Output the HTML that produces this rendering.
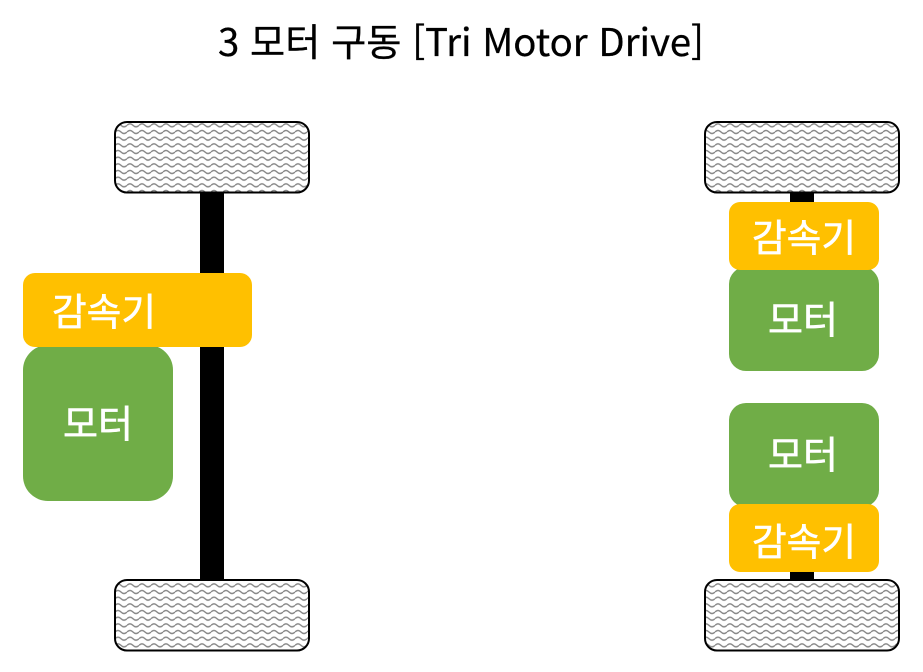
<!DOCTYPE html>
<html lang="ko">
<head>
<meta charset="utf-8">
<style>
html,body{margin:0;padding:0;background:#fff;width:923px;height:672px;overflow:hidden}
svg{display:block}
text{font-family:"Noto Sans CJK KR","Liberation Sans",sans-serif}
.w{fill:#fff;font-size:38px;text-anchor:middle;stroke:#fff;stroke-width:.6}
</style>
</head>
<body>
<svg width="923" height="672" viewBox="0 0 923 672" xmlns="http://www.w3.org/2000/svg">
<defs>
<pattern id="wave" width="12" height="6.667" patternUnits="userSpaceOnUse" x="115" y="122">
<path d="M0 3.3 Q3 0.3 6 3.3 T12 3.3" fill="none" stroke="#858585" stroke-width="1.4"/>
</pattern>
</defs>
<rect width="923" height="672" fill="#fff"/>
<text x="461" y="56" font-size="38" text-anchor="middle" textLength="486" lengthAdjust="spacingAndGlyphs" fill="#000" stroke="#000" stroke-width=".3">3 모터 구동 [Tri Motor Drive]</text>

<rect x="200" y="190" width="24" height="392" fill="#000"/>
<rect x="790" y="190" width="24" height="14" fill="#000"/>
<rect x="790" y="570" width="24" height="12" fill="#000"/>

<rect x="115" y="122" width="194" height="70.500" rx="12" fill="#fff"/>
<rect x="115" y="122" width="194" height="70.500" rx="12" fill="url(#wave)" stroke="#000" stroke-width="2"/>
<rect x="115" y="580" width="194" height="70.500" rx="12" fill="#fff"/>
<rect x="115" y="580" width="194" height="70.500" rx="12" fill="url(#wave)" stroke="#000" stroke-width="2"/>
<rect x="705" y="122" width="194" height="70.500" rx="12" fill="#fff"/>
<rect x="705" y="122" width="194" height="70.500" rx="12" fill="url(#wave)" stroke="#000" stroke-width="2"/>
<rect x="705" y="580" width="194" height="70.500" rx="12" fill="#fff"/>
<rect x="705" y="580" width="194" height="70.500" rx="12" fill="url(#wave)" stroke="#000" stroke-width="2"/>

<rect x="23" y="345" width="150" height="156" rx="25" fill="#70ad47"/>
<rect x="23" y="273" width="229" height="74" rx="12" fill="#ffc000"/>
<text class="w" x="104" y="325.500" textLength="104" lengthAdjust="spacingAndGlyphs">감속기</text>
<text class="w" x="98" y="437.500" textLength="70" lengthAdjust="spacingAndGlyphs">모터</text>

<rect x="729" y="267" width="150" height="104" rx="17" fill="#70ad47"/>
<rect x="729" y="202" width="150" height="68" rx="11" fill="#ffc000"/>
<text class="w" x="804" y="251.500" textLength="104" lengthAdjust="spacingAndGlyphs">감속기</text>
<text class="w" x="803" y="333.500" textLength="70" lengthAdjust="spacingAndGlyphs">모터</text>

<rect x="729" y="403" width="150" height="104" rx="17" fill="#70ad47"/>
<rect x="729" y="504" width="150" height="68" rx="11" fill="#ffc000"/>
<text class="w" x="804" y="555.500" textLength="104" lengthAdjust="spacingAndGlyphs">감속기</text>
<text class="w" x="803" y="468.500" textLength="70" lengthAdjust="spacingAndGlyphs">모터</text>
</svg>
</body>
</html>
